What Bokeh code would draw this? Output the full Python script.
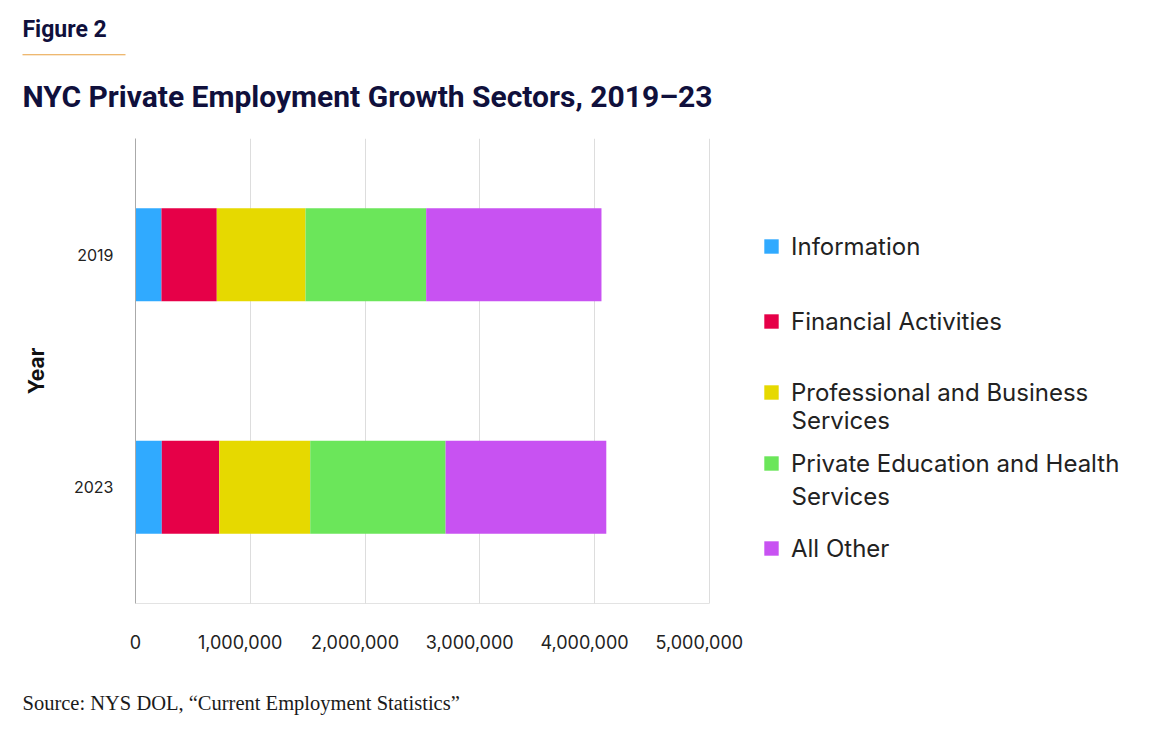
from bokeh.plotting import figure
from bokeh.layouts import column
from bokeh.models import (ColumnDataSource, FactorRange, Range1d, NumeralTickFormatter,
                          FixedTicker, Legend, LegendItem, Label, BoxAnnotation)
from bokeh.embed import file_html
from bokeh.resources import INLINE

# ---- data ----
years = ["2019", "2023"]
sectors = ["Information", "Financial Activities", "Professional and Business Services",
           "Private Education and Health Services", "All Other"]
legend_first_lines = ["Information", "Financial Activities", "Professional and Business",
                      "Private Education and Health", "All Other"]
legend_second_lines = ["", "", "Services", "Services", ""]
information = [226000, 229000]
financial = [482000, 500000]
professional = [773000, 793000]
education_health = [1051000, 1179000]
all_other = [1527000, 1400000]
x_ticks = [0, 1000000, 2000000, 3000000, 4000000, 5000000]
x_tick_labels = ["0", "1,000,000", "2,000,000", "3,000,000", "4,000,000", "5,000,000"]
colors = ["#30AAFF", "#E60048", "#E6D900", "#6BE65A", "#C852F2"]

keys = ["info", "fin", "prof", "edu", "other"]
source = ColumnDataSource(dict(year=years, info=information, fin=financial,
                               prof=professional, edu=education_health, other=all_other))

W = 1150
NAVY = "#10103c"
NB = "\u00a0"

# ---------- header ----------
HH = 130
head = figure(width=W, height=HH, output_backend="svg", toolbar_location=None,
              x_range=Range1d(0, W), y_range=Range1d(0, HH), frame_align=False,
              min_border=0, min_border_left=0, min_border_right=0,
              min_border_top=0, min_border_bottom=0)
head.axis.visible = False
head.grid.visible = False
head.outline_line_color = None
head.add_layout(Label(x=22, y=HH - 29, x_units="screen", y_units="screen", text="Figure 2",
                      text_font="Roboto", text_font_style="bold", text_font_size="23px",
                      text_color=NAVY, text_baseline="middle", text_align="left"))
head.add_layout(BoxAnnotation(left=22, right=125, bottom=HH - 54.8, top=HH - 53.8,
                              left_units="screen", right_units="screen", bottom_units="screen",
                              top_units="screen", fill_color="#E8A040", fill_alpha=1,
                              line_color=None))
head.add_layout(Label(x=22, y=HH - 96, x_units="screen", y_units="screen",
                      text="NYC Private Employment Growth Sectors, 2019\u201323",
                      text_font="Roboto", text_font_style="bold", text_font_size="30px",
                      text_color=NAVY, text_baseline="middle", text_align="left"))

# ---------- main chart ----------
FL, FT, FB = 135, 138, 603           # frame left/top/bottom in page px
MH = 533                              # main figure height (page y 130..663)
frame_w = W - FL
px_per_unit = 574 / x_ticks[-1]       # 5,000,000 spans 574 px
p = figure(width=W, height=MH, output_backend="svg", toolbar_location=None,
           y_range=FactorRange(factors=["2023", "2019"]),
           x_range=Range1d(0, frame_w / px_per_unit), frame_align=False,
           min_border_left=FL, min_border_right=0, min_border_top=FT - HH,
           min_border_bottom=HH + MH - FB)
p.outline_line_color = None

renderers = p.hbar_stack(keys, y="year", height=0.4, color=colors, line_color=None, source=source)

# bottom axis line only across 0..5,000,000
p.segment(x0=[x_ticks[0]], x1=[x_ticks[-1]], y0=[0], y1=[0], line_color="#c8c8c8", line_width=1)

p.xaxis.ticker = FixedTicker(ticks=x_ticks)
p.xaxis.formatter = NumeralTickFormatter(format="0,0")
# labels in the reference sit slightly left of their gridlines (except 0)
p.xaxis.major_label_overrides = {t: (lab if t == 0 else lab + NB * 4)
                                 for t, lab in zip(x_ticks, x_tick_labels)}
p.xaxis.axis_line_color = None
p.xaxis.major_tick_line_color = None
p.xaxis.minor_tick_line_color = None
p.xaxis.major_label_standoff = 22
p.xaxis.major_label_text_font = "Inter"
p.xaxis.major_label_text_font_size = "18px"
p.xaxis.major_label_text_color = "#222222"

p.yaxis.axis_line_color = "#aaaaaa"
p.yaxis.major_tick_line_color = None
p.yaxis.minor_tick_line_color = None
p.yaxis.major_label_standoff = 16
p.yaxis.major_label_text_font = "Inter"
p.yaxis.major_label_text_font_size = "16px"
p.yaxis.major_label_text_color = "#222222"
p.yaxis.axis_label = "Year"
p.yaxis.axis_label_standoff = 22
p.yaxis.axis_label_text_font = "Inter"
p.yaxis.axis_label_text_font_style = "bold"
p.yaxis.axis_label_text_font_size = "21px"
p.yaxis.axis_label_text_color = "#111111"

p.xgrid.grid_line_color = "#dddddd"
p.ygrid.grid_line_color = None

# legends (one per item, positioned individually inside the wide frame)
first_line_y = [246, 321, 392, 463, 548]     # page y of each item's first line
second_line_y = [0, 0, 420, 496, 0]
for r, lab, lab2, cy, cy2 in zip(renderers, legend_first_lines, legend_second_lines,
                                 first_line_y, second_line_y):
    lg = Legend(items=[LegendItem(label=lab, renderers=[r])],
                location=(627, FB - (cy + 14.5)),
                glyph_width=18, glyph_height=18, label_standoff=11, padding=0, margin=0,
                spacing=0, border_line_color=None, background_fill_alpha=0,
                label_text_font="Inter", label_text_font_size="24px",
                label_text_color="#222222", label_height=18)
    p.add_layout(lg, "center")
    if lab2:
        p.add_layout(Label(x=791 - FL, y=FB - cy2, x_units="screen", y_units="screen",
                           text=lab2, text_font="Inter", text_font_size="24px",
                           text_color="#222222", text_baseline="middle", text_align="left"))

# ---------- footer ----------
FH = 70
foot = figure(width=W, height=FH, output_backend="svg", toolbar_location=None,
              x_range=Range1d(0, W), y_range=Range1d(0, FH), frame_align=False,
              min_border=0, min_border_left=0, min_border_right=0,
              min_border_top=0, min_border_bottom=0)
foot.axis.visible = False
foot.grid.visible = False
foot.outline_line_color = None
foot.add_layout(Label(x=22, y=FH - (702 - (HH + MH)), x_units="screen", y_units="screen",
                      text="Source: NYS DOL, \u201cCurrent Employment Statistics\u201d",
                      text_font="Liberation Serif", text_font_size="20.5px",
                      text_color="#1a1a1a", text_baseline="middle", text_align="left"))

layout = column(head, p, foot, spacing=0)
open("out.html", "w").write(file_html(layout, INLINE))
